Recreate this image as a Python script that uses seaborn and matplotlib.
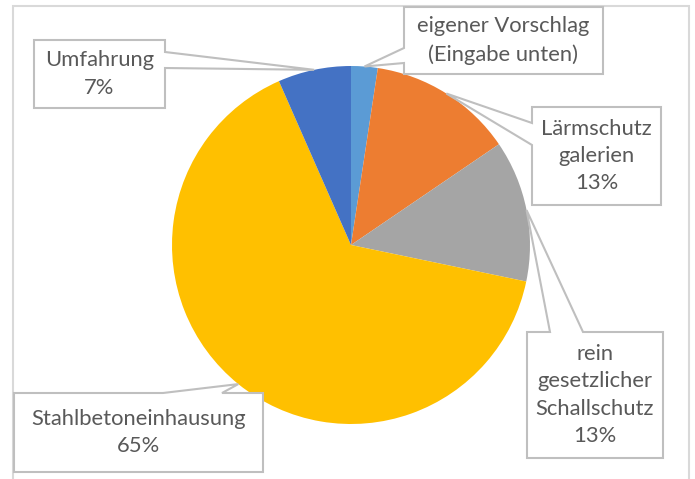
import numpy as np
import matplotlib
matplotlib.use("Agg")
import matplotlib.pyplot as plt
from matplotlib.patches import Polygon, Rectangle
import seaborn as sns

# ---- data ----
categories = ["eigener Vorschlag\n(Eingabe unten)", "Lärmschutz\ngalerien",
              "rein\ngesetzlicher\nSchallschutz", "Stahlbetoneinhausung", "Umfahrung"]
shares = [2.4, 13.1, 12.8, 65.2, 6.6]
show_pct = [False, True, True, True, True]
colors = ["#5B9BD5", "#ED7D31", "#A5A5A5", "#FFC000", "#4472C4"]

sns.set_theme(style="white")
plt.rcParams['font.family'] = ['Lato', 'DejaVu Sans']

W, H = 695, 479
fig = plt.figure(figsize=(W / 100, H / 100), dpi=100)
ax = fig.add_axes([0, 0, 1, 1])

def Y(y):
    return H - y

cx, cy, r = 351, 245, 179
wedges, _ = ax.pie(shares, colors=colors, startangle=90, counterclock=False,
                   center=(cx, Y(cy)), radius=r, frame=True,
                   wedgeprops=dict(linewidth=0))
ax.set_xlim(0, W)
ax.set_ylim(0, H)
ax.set_aspect('equal')
ax.axis('off')

# outer chart frame
ax.add_patch(Rectangle((13, Y(481)), 676, 481 - 6, fill=False, ec="#d9d9d9", lw=1.5, zorder=0))

# callout layout (pixel coords, y down): box x0,y0,x1,y1, wedge side, base a,b
layout = [
    ((404, 7, 603, 74), 'left', 48, 63),
    ((532, 107, 661, 205), 'left', 123, 145),
    ((527, 332, 663, 458), 'top', 550, 583),
    ((14, 393, 263, 472), 'top', 163, 222),
    ((34, 40, 165, 108), 'right', 52, 68),
]

total = sum(shares)
for w, v, (box, side, a, b), name, sp in zip(wedges, shares, layout, categories, show_pct):
    th = np.deg2rad((w.theta1 + w.theta2) / 2)
    tx = w.center[0] + w.r * np.cos(th)
    ty = H - (w.center[1] + w.r * np.sin(th))
    tip = (tx, ty)
    x0, y0, x1, y1 = box
    if side == 'left':
        pts = [(x0, y0), (x1, y0), (x1, y1), (x0, y1), (x0, b), tip, (x0, a)]
    elif side == 'right':
        pts = [(x0, y0), (x1, y0), (x1, a), tip, (x1, b), (x1, y1), (x0, y1)]
    else:  # top
        pts = [(x0, y0), (a, y0), tip, (b, y0), (x1, y0), (x1, y1), (x0, y1)]
    pts = [(px, Y(py)) for px, py in pts]
    ax.add_patch(Polygon(pts, closed=True, fc="white", ec="#bfbfbf", lw=1.5, zorder=5))
    txt = name
    if sp:
        txt += f"\n{round(100 * v / total)}%"
    ax.text((x0 + x1) / 2, Y((y0 + y1) / 2), txt, ha='center', va='center',
            fontsize=15.8, color="#595959", linespacing=1.45, zorder=6)

fig.savefig("out.png", dpi=100)
